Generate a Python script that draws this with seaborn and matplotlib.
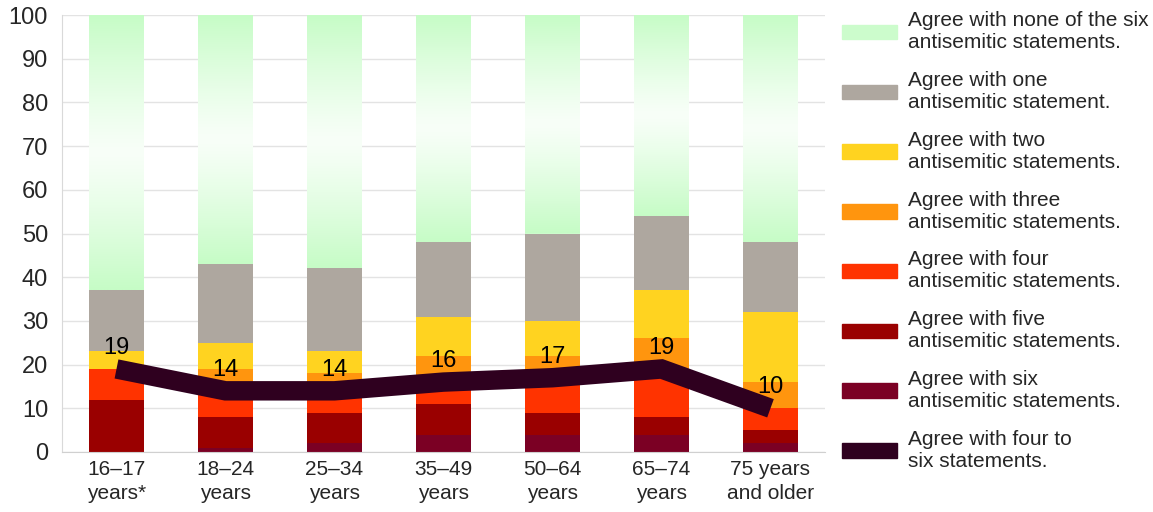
import numpy as np
import pandas as pd
import seaborn as sns
import matplotlib.pyplot as plt
from matplotlib.patches import Patch
from matplotlib.colors import to_rgb

ages = ["16–17\nyears*", "18–24\nyears", "25–34\nyears", "35–49\nyears",
        "50–64\nyears", "65–74\nyears", "75 years\nand older"]

# share (%) agreeing with N of the six statements
six = [0, 1, 2, 4, 4, 4, 2]
five = [12, 7, 7, 7, 5, 4, 3]
four = [7, 6, 5, 5, 8, 11, 5]
three = [0, 5, 4, 6, 5, 7, 6]
two = [4, 6, 5, 9, 8, 11, 16]
one = [14, 18, 19, 17, 20, 17, 16]
none = [63, 57, 58, 52, 50, 46, 52]
four_to_six = [19, 14, 14, 16, 17, 19, 10]

layers = [("Agree with six\nantisemitic statements.", six, "#7b0024"),
          ("Agree with five\nantisemitic statements.", five, "#9a0000"),
          ("Agree with four\nantisemitic statements.", four, "#ff3300"),
          ("Agree with three\nantisemitic statements.", three, "#ff950e"),
          ("Agree with two\nantisemitic statements.", two, "#ffd320"),
          ("Agree with one\nantisemitic statement.", one, "#aea79f"),
          ("Agree with none of the six\nantisemitic statements.", none, "#ccfccc")]
line_color = "#2f001f"

sns.set_style("white")
plt.rcParams["font.family"] = ["Liberation Sans", "DejaVu Sans"]

fig = plt.figure(figsize=(11.53, 5.12), dpi=100)
ax = fig.add_axes([62 / 1153, 60 / 512, 763 / 1153, 437 / 512])

df = pd.DataFrame({"age": ages})
cum = np.zeros(len(ages))
tops = []
for label, vals, color in layers:
    cum = cum + np.array(vals)
    tops.append(cum.copy())

# draw cumulative totals from the top layer down so each covers the one above
for i in range(len(layers) - 1, -1, -1):
    df["v"] = tops[i]
    sns.barplot(data=df, x="age", y="v", color=layers[i][2], width=0.5,
                saturation=1, linewidth=0, ax=ax,
                zorder=2 + (len(layers) - i) * 0.01)
    if i == len(layers) - 1:
        green_patches = list(ax.patches)

# green gradient (green edges, white middle)
g = np.array(to_rgb("#c6fcc6"))
w = np.array(to_rgb("#f8fff8"))
t = np.abs(np.linspace(-1, 1, 200))[:, None, None]
grad = w + (g - w) * t ** 1.2
for p, lo in zip(green_patches, tops[-2]):
    x0 = p.get_x()
    ax.imshow(grad, extent=(x0, x0 + p.get_width(), lo, 100), aspect="auto",
              zorder=2.015, interpolation="bilinear")

xs = np.arange(len(ages))
sns.lineplot(x=xs, y=four_to_six, color=line_color, lw=14, ax=ax, zorder=5,
             solid_capstyle="butt", solid_joinstyle="miter")
for x, v in zip(xs, four_to_six):
    ax.annotate(str(v), (x, v), xytext=(0, 15), textcoords="offset points",
                ha="center", va="center", fontsize=17, color="black", zorder=6)

ax.set_xlim(-0.5, len(ages) - 0.5)
ax.set_ylim(0, 100)
ax.set_yticks(range(0, 101, 10))
ax.set_xlabel("")
ax.set_ylabel("")
ax.yaxis.grid(True, color="#e3e3e3", lw=1)
ax.set_axisbelow(True)
for s in ["top", "right"]:
    ax.spines[s].set_visible(False)
ax.spines["left"].set_color("#d9d9d9")
ax.spines["bottom"].set_color("#d0d0d0")
ax.tick_params(axis="y", labelsize=17, length=0, pad=10)
ax.tick_params(axis="x", labelsize=15, length=0, pad=6)
for lab in ax.get_xticklabels():
    lab.set_linespacing(1.3)
ax.set_xticks(np.arange(-0.5, len(ages), 1), minor=True)
ax.tick_params(axis="x", which="minor", length=9, color="#d0d0d0")

handles = [Patch(color=c, label=l) for l, v, c in reversed(layers)]
handles.append(Patch(color=line_color, label="Agree with four to\nsix statements."))
fig.legend(handles=handles, loc="upper left", bbox_to_anchor=(838 / 1153, 0.986),
           frameon=False, fontsize=15, handlelength=2.65, handleheight=0.7,
           labelspacing=0.9, handletextpad=0.5, borderpad=0.2, borderaxespad=0)

fig.savefig("out.png", dpi=100)
